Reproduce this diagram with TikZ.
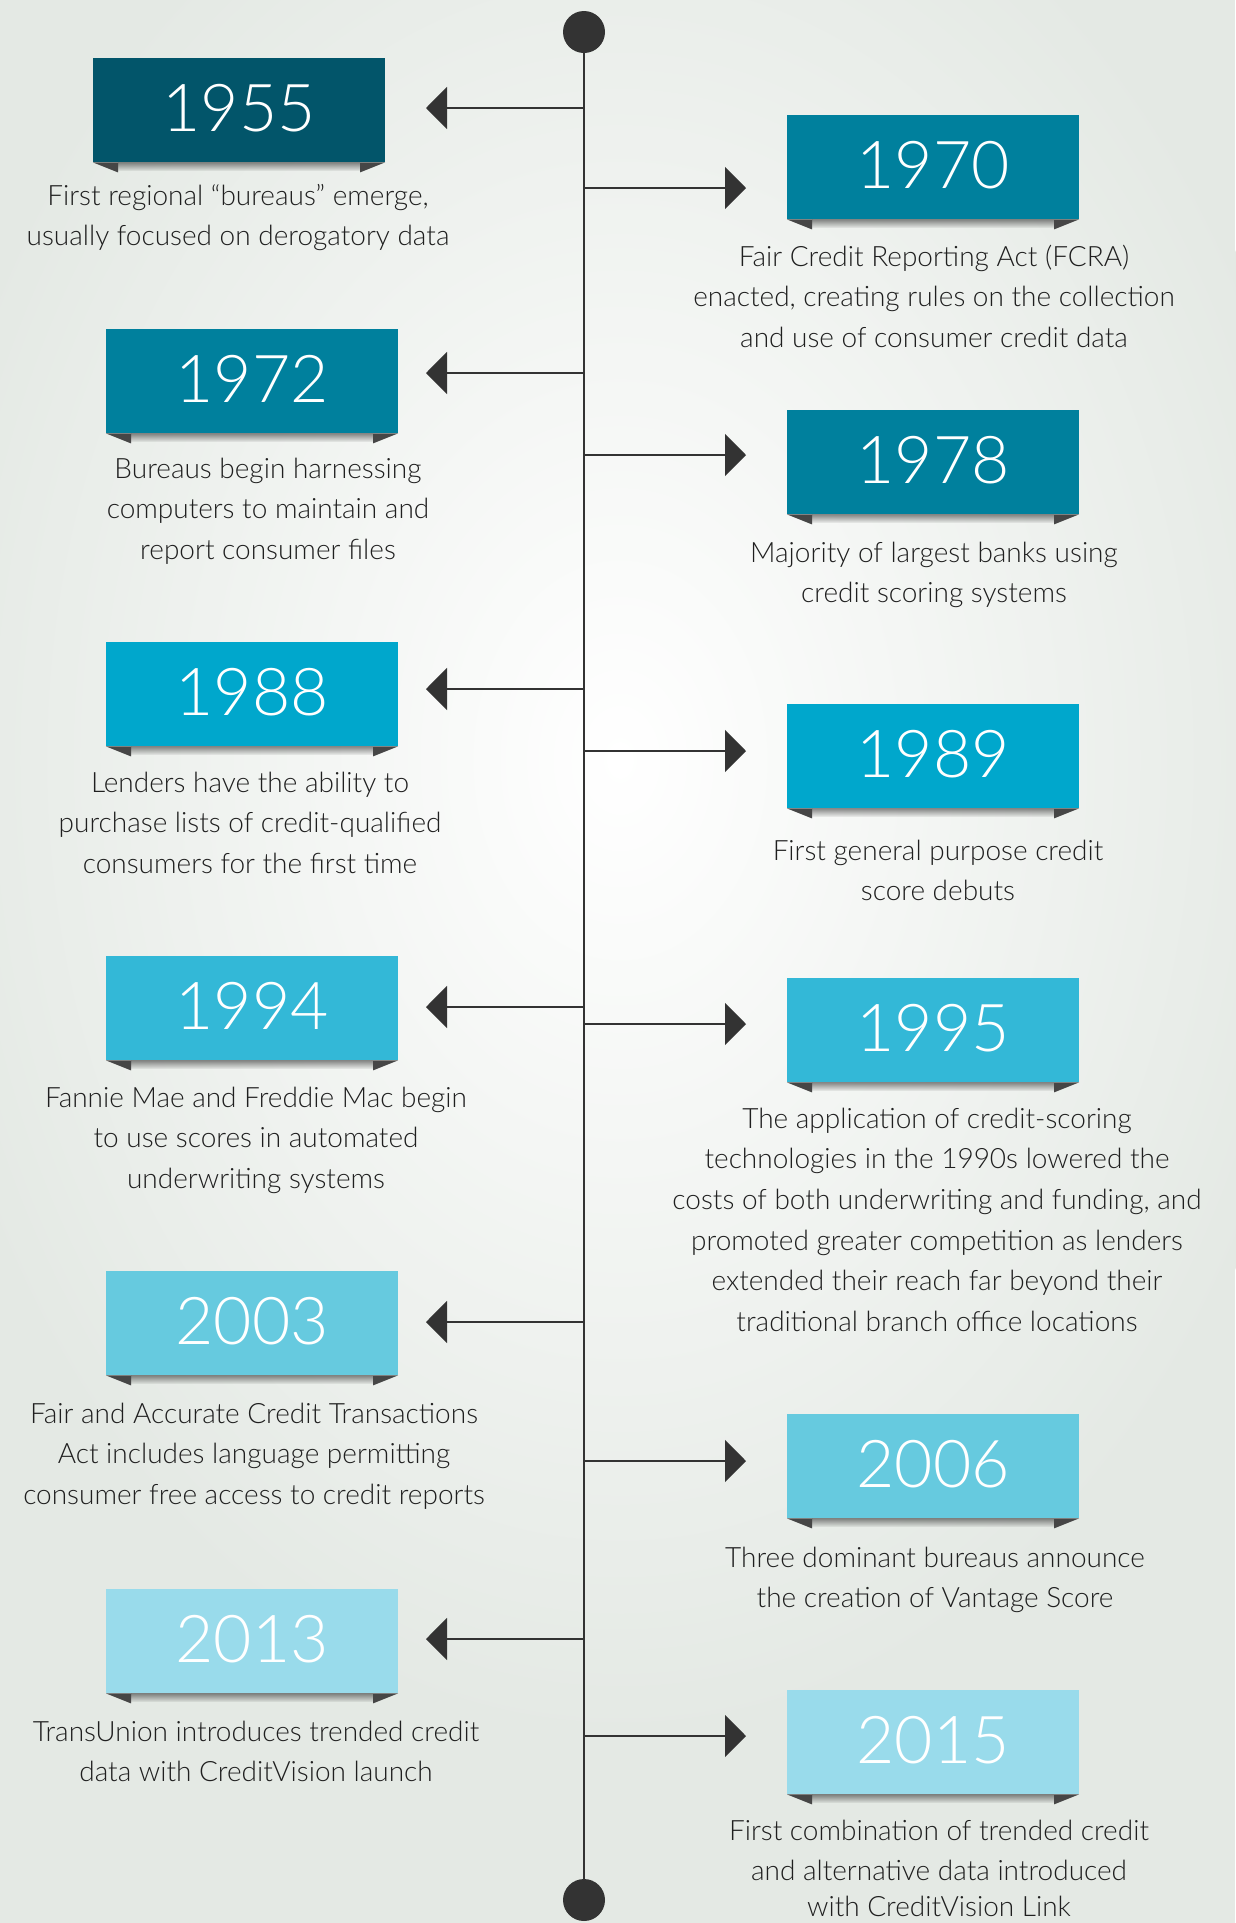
\documentclass[tikz,border=0pt]{standalone}
\usepackage{fontspec}
\IfFontExistsTF{Lato Light}{\setmainfont{Lato Light}}{\setmainfont{Lato}}
\IfFontExistsTF{Lato Light}{\newfontfamily\yearfont{Lato Light}}{\newfontfamily\yearfont{Lato}}
\usetikzlibrary{arrows.meta,fadings}

\definecolor{bgout}{HTML}{E4E9E4}
\definecolor{ink}{HTML}{333333}
\definecolor{txt}{HTML}{1F1F1F}
\definecolor{tailgray}{HTML}{464646}
\definecolor{tealA}{HTML}{02556A}
\definecolor{tealB}{HTML}{00809D}
\definecolor{tealC}{HTML}{00A7CC}
\definecolor{tealD}{HTML}{33B8D7}
\definecolor{tealE}{HTML}{66CADF}
\definecolor{tealF}{HTML}{99DBEB}

\tikzfading[name=shadowfade, top color=transparent!0, bottom color=transparent!100]

\tikzset{
  yearbox/.style={fill=#1, minimum width=292pt, minimum height=104pt, inner sep=0pt,
    anchor=north west, text=white, text depth=5pt, font=\yearfont\fontsize{66}{66}\selectfont},
  desc/.style={anchor=north, align=center, inner sep=0pt, text=txt,
    font=\fontsize{28}{40.6}\selectfont},
  link/.style={ink, line width=2pt, -{Triangle[length=21pt,width=42pt]}},
  dot/.style={circle, fill=ink, minimum size=42pt, inner sep=0pt},
  pics/tails/.style={code={
    \fill[tailgray] (0,0) -- (25,0) -- (25,10) -- cycle;
    \fill[tailgray] (292,0) -- (267,0) -- (267,10) -- cycle;
    \fill[black, opacity=.45, path fading=shadowfade] (25,0) rectangle (267,9);
  }}
}

\begin{document}
\begin{tikzpicture}[x=1pt, y=-1pt]
  % Background
  \useasboundingbox (0,0) rectangle (1235,1923);
  \fill[bgout] (0,0) rectangle (1235,1923);
  \shade[inner color=white, outer color=bgout] (620,760) ellipse (720 and 980);

  % Timeline
  \node[dot] (top) at (584,32) {};
  \node[dot] (bot) at (584,1900) {};
  \draw[ink, line width=2pt] (top) -- (bot);

  % 1955
  \node[yearbox=tealA] (y1955) at (93,58) {1955};
  \pic at (y1955.south west) {tails};
  \coordinate (s1955) at (584,108);
  \coordinate (t1955) at (426,108);
  \draw[link] (s1955) -- (t1955);
  \node[desc] (d1955) at (238,176.6) {\strut First regional “bureaus" emerge,\\usually focused on derogatory data};

  % 1970
  \node[yearbox=tealB] (y1970) at (787,115) {1970};
  \pic at (y1970.south west) {tails};
  \coordinate (s1970) at (584,188);
  \coordinate (t1970) at (746,188);
  \draw[link] (s1970) -- (t1970);
  \node[desc] (d1970) at (934,237.6) {\strut Fair Credit Reporting Act (FCRA)\\enacted, creating rules on the collection\\and use of consumer credit data};

  % 1972
  \node[yearbox=tealB] (y1972) at (106,329) {1972};
  \pic at (y1972.south west) {tails};
  \coordinate (s1972) at (584,373);
  \coordinate (t1972) at (426,373);
  \draw[link] (s1972) -- (t1972);
  \node[desc] (d1972) at (268,449.6) {\strut Bureaus begin harnessing\\computers to maintain and\\report consumer files};

  % 1978
  \node[yearbox=tealB] (y1978) at (787,410) {1978};
  \pic at (y1978.south west) {tails};
  \coordinate (s1978) at (584,455);
  \coordinate (t1978) at (746,455);
  \draw[link] (s1978) -- (t1978);
  \node[desc] (d1978) at (934,533.6) {\strut Majority of largest banks using\\credit scoring systems};

  % 1988
  \node[yearbox=tealC] (y1988) at (106,642) {1988};
  \pic at (y1988.south west) {tails};
  \coordinate (s1988) at (584,689);
  \coordinate (t1988) at (426,689);
  \draw[link] (s1988) -- (t1988);
  \node[desc] (d1988) at (250,763.6) {\strut Lenders have the ability to\\purchase lists of credit-qualified\\consumers for the first time};

  % 1989
  \node[yearbox=tealC] (y1989) at (787,704) {1989};
  \pic at (y1989.south west) {tails};
  \coordinate (s1989) at (584,751);
  \coordinate (t1989) at (746,751);
  \draw[link] (s1989) -- (t1989);
  \node[desc] (d1989) at (938,831.6) {\strut First general purpose credit\\score debuts};

  % 1994
  \node[yearbox=tealD] (y1994) at (106,956) {1994};
  \pic at (y1994.south west) {tails};
  \coordinate (s1994) at (584,1007);
  \coordinate (t1994) at (426,1007);
  \draw[link] (s1994) -- (t1994);
  \node[desc] (d1994) at (256,1078.6) {\strut Fannie Mae and Freddie Mac begin\\to use scores in automated\\underwriting systems};

  % 1995
  \node[yearbox=tealD] (y1995) at (787,978) {1995};
  \pic at (y1995.south west) {tails};
  \coordinate (s1995) at (584,1024);
  \coordinate (t1995) at (746,1024);
  \draw[link] (s1995) -- (t1995);
  \node[desc] (d1995) at (937,1099.6) {\strut The application of credit-scoring\\technologies in the 1990s lowered the\\costs of both underwriting and funding, and\\promoted greater competition as lenders\\extended their reach far beyond their\\traditional branch office locations};

  % 2003
  \node[yearbox=tealE] (y2003) at (106,1271) {2003};
  \pic at (y2003.south west) {tails};
  \coordinate (s2003) at (584,1322);
  \coordinate (t2003) at (426,1322);
  \draw[link] (s2003) -- (t2003);
  \node[desc] (d2003) at (254,1394.6) {\strut Fair and Accurate Credit Transactions\\Act includes language permitting\\consumer free access to credit reports};

  % 2006
  \node[yearbox=tealE] (y2006) at (787,1414) {2006};
  \pic at (y2006.south west) {tails};
  \coordinate (s2006) at (584,1461);
  \coordinate (t2006) at (746,1461);
  \draw[link] (s2006) -- (t2006);
  \node[desc] (d2006) at (935,1538.6) {\strut Three dominant bureaus announce\\the creation of Vantage Score};

  % 2013
  \node[yearbox=tealF] (y2013) at (106,1589) {2013};
  \pic at (y2013.south west) {tails};
  \coordinate (s2013) at (584,1639);
  \coordinate (t2013) at (426,1639);
  \draw[link] (s2013) -- (t2013);
  \node[desc] (d2013) at (256,1712.6) {\strut TransUnion introduces trended credit\\data with CreditVision launch};

  % 2015 (last line pulled up a little to stay on the page)
  \node[yearbox=tealF] (y2015) at (787,1690) {2015};
  \pic at (y2015.south west) {tails};
  \coordinate (s2015) at (584,1736);
  \coordinate (t2015) at (746,1736);
  \draw[link] (s2015) -- (t2015);
  \node[desc] (d2015) at (939,1811.6) {\strut First combination of trended credit\\and alternative data introduced\\[-5pt]with CreditVision Link};
\end{tikzpicture}
\end{document}
